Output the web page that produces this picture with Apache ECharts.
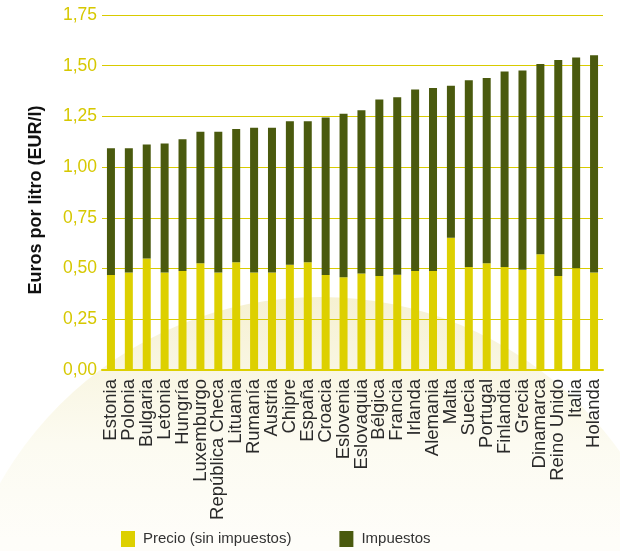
<!DOCTYPE html>
<html lang="es">
<head>
    <meta charset="UTF-8"/>
    <title>Precio de la gasolina</title>
    <script src="https://cdn.jsdelivr.net/npm/echarts@6.0.0/dist/echarts.min.js"></script>
    <style>
        * { margin: 0; padding: 0; }
        body { background: #fff; }
        #chart { width: 620px; height: 551px; }
    </style>
</head>
<body>
<div id="chart"></div>
<script>
    const paises = ['Estonia', 'Polonia', 'Bulgaria', 'Letonia', 'Hungría', 'Luxemburgo', 'República Checa',
        'Lituania', 'Rumanía', 'Austria', 'Chipre', 'España', 'Croacia', 'Eslovenia', 'Eslovaquia', 'Bélgica',
        'Francia', 'Irlanda', 'Alemania', 'Malta', 'Suecia', 'Portugal', 'Finlandia', 'Grecia', 'Dinamarca',
        'Reino Unido', 'Italia', 'Holanda'];
    // precio total (EUR/l)
    const total = [1.093, 1.093, 1.112, 1.117, 1.137, 1.175, 1.175, 1.188, 1.194, 1.194, 1.226, 1.226, 1.245,
        1.263, 1.281, 1.334, 1.345, 1.383, 1.390, 1.401, 1.428, 1.439, 1.472, 1.477, 1.508, 1.528, 1.541, 1.552];
    // precio sin impuestos
    const precio = [0.468, 0.481, 0.550, 0.481, 0.488, 0.526, 0.481, 0.531, 0.481, 0.481, 0.519, 0.531, 0.468,
        0.457, 0.476, 0.463, 0.470, 0.488, 0.488, 0.652, 0.508, 0.526, 0.508, 0.494, 0.570, 0.463, 0.501, 0.481];
    const impuestos = total.map((t, i) => +(t - precio[i]).toFixed(3));

    const amarillo = '#ddd000';
    const oliva = '#4a5a0e';
    const fuente = "'Liberation Sans', Arial, sans-serif";

    const chart = echarts.init(document.getElementById('chart'));
    chart.setOption({
        animation: false,
        textStyle: {fontFamily: fuente},
        graphic: [{
            type: 'circle',
            z: -10,
            silent: true,
            shape: {cx: 320, cy: 665, r: 368},
            style: {
                fill: new echarts.graphic.LinearGradient(0, 0, 0, 1, [
                    {offset: 0, color: '#f6f1d1'},
                    {offset: 0.1, color: '#f9f6e3'},
                    {offset: 0.2, color: '#fcfbf1'},
                    {offset: 0.33, color: '#fefdf9'},
                    {offset: 1, color: '#ffffff'}
                ])
            }
        }],
        grid: {left: 102, right: 17, top: 15, bottom: 181},
        legend: {
            top: 526,
            left: 116,
            itemWidth: 14,
            itemHeight: 16,
            itemGap: 48,
            icon: 'rect',
            textStyle: {fontSize: 15, color: '#333', fontFamily: fuente, padding: [0, 0, 0, 3]},
            data: ['Precio (sin impuestos)', 'Impuestos']
        },
        xAxis: {
            type: 'category',
            data: paises,
            axisLine: {lineStyle: {color: amarillo, width: 2}},
            axisTick: {show: false},
            axisLabel: {
                rotate: 90,
                interval: 0,
                margin: 9,
                fontSize: 18.5,
                color: '#2a2a2a',
                fontFamily: fuente
            }
        },
        yAxis: {
            type: 'value',
            min: 0,
            max: 1.75,
            interval: 0.25,
            name: 'Euros por litro (EUR/l)',
            nameLocation: 'middle',
            nameGap: 57,
            nameTextStyle: {fontSize: 18, fontWeight: 'bold', color: '#111', fontFamily: fuente, padding: [0, 15, 0, 0]},
            axisLine: {show: false},
            axisTick: {show: false},
            splitLine: {lineStyle: {color: '#d8cb00', width: 1}},
            axisLabel: {
                margin: 5,
                fontSize: 17.5,
                color: '#d6c800',
                fontFamily: fuente,
                formatter: v => v.toFixed(2).replace('.', ',')
            }
        },
        series: [
            {
                name: 'Precio (sin impuestos)',
                type: 'bar',
                stack: 'total',
                data: precio,
                barWidth: 8,
                itemStyle: {color: amarillo}
            },
            {
                name: 'Impuestos',
                type: 'bar',
                stack: 'total',
                data: impuestos,
                barWidth: 8,
                itemStyle: {color: oliva}
            }
        ]
    });
</script>
</body>
</html>
